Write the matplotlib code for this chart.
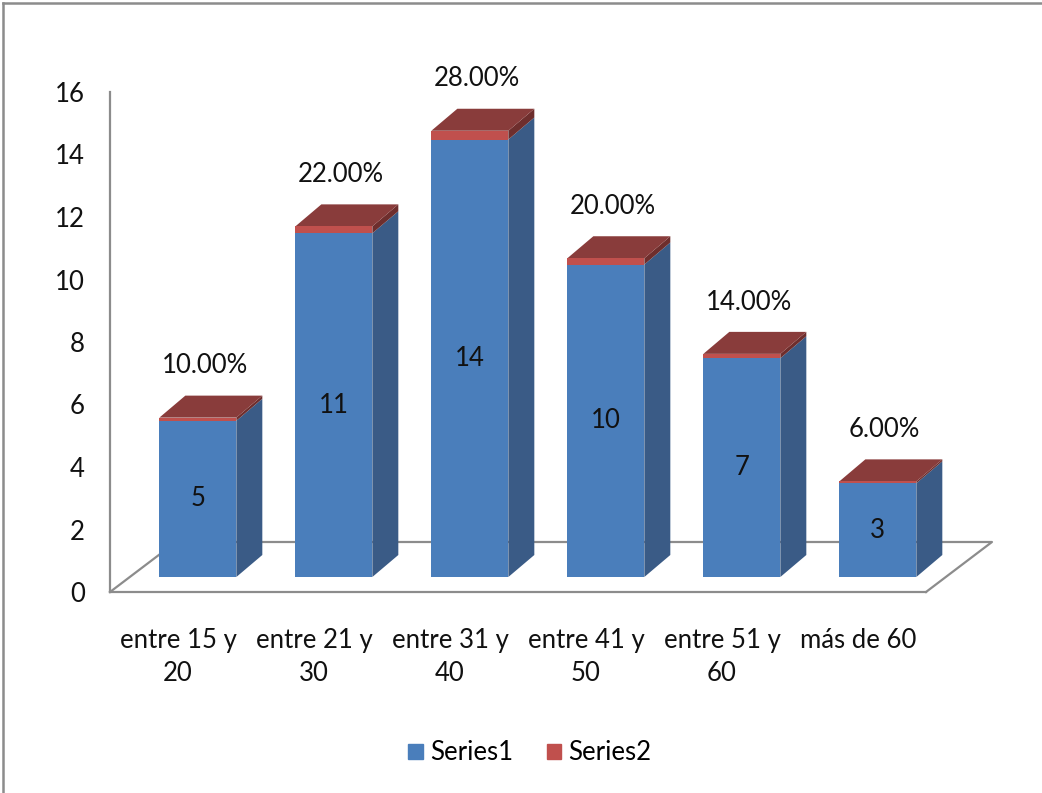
import matplotlib
matplotlib.use("Agg")
import matplotlib.pyplot as plt
from matplotlib.patches import Polygon, Patch
from matplotlib.lines import Line2D
import numpy as np

categories = ["entre 15 y\n20", "entre 21 y\n30", "entre 31 y\n40",
              "entre 41 y\n50", "entre 51 y\n60", "más de 60"]
series1 = [5, 11, 14, 10, 7, 3]
series2 = [0.10, 0.22, 0.28, 0.20, 0.14, 0.06]
yticks = [0, 2, 4, 6, 8, 10, 12, 14, 16]

plt.rcParams['font.family'] = ['Lato', 'DejaVu Sans']
FS = 18.5

W, H = 1042, 793
fig = plt.figure(figsize=(W / 100, H / 100), dpi=100)
ax = fig.add_axes([110 / W, 201 / H, 816 / W, 500 / H])
ax.set_xlim(-0.5, 5.5)
ax.set_ylim(0, 16)

gray = '#8c8c8c'
for s in ['top', 'right']:
    ax.spines[s].set_visible(False)
for s in ['left', 'bottom']:
    ax.spines[s].set_color(gray)
    ax.spines[s].set_linewidth(1.6)

# perspective geometry (data units)
floor_dx, floor_dy = 0.485, 1.6
bar_front_dx, bar_front_dy = 0.146, 0.48
bar_dx, bar_dy = 0.191, 0.704
bar_w = 0.566

# floor outline (back and sides)
xl, xr = -0.5, 5.5
ax.add_line(Line2D([xl, xl + floor_dx, xr + floor_dx, xr],
                   [0, floor_dy, floor_dy, 0], color=gray, lw=1.6,
                   clip_on=False, zorder=1))

blue_f, blue_s = '#4a7ebb', '#3a5b86'
red_f, red_s, red_t = '#c0504d', '#6e2e2d', '#893c3b'
txt = '#111111'

x = np.arange(len(categories))
fx = x + bar_front_dx
base = bar_front_dy

ax.bar(fx, series1, width=bar_w, bottom=base, color=blue_f, zorder=3, clip_on=False)
tops1 = base + np.array(series1)
ax.bar(fx, series2, width=bar_w, bottom=tops1, color=red_f, zorder=3, clip_on=False)
tops2 = tops1 + np.array(series2)

for i in range(len(categories)):
    l = fx[i] - bar_w / 2
    r = fx[i] + bar_w / 2
    ax.add_patch(Polygon([(r, base), (r + bar_dx, base + bar_dy),
                          (r + bar_dx, tops1[i] + bar_dy), (r, tops1[i])],
                         closed=True, color=blue_s, zorder=2.9, clip_on=False, lw=0))
    ax.add_patch(Polygon([(r, tops1[i]), (r + bar_dx, tops1[i] + bar_dy),
                          (r + bar_dx, tops2[i] + bar_dy), (r, tops2[i])],
                         closed=True, color=red_s, zorder=2.9, clip_on=False, lw=0))
    ax.add_patch(Polygon([(l, tops2[i]), (l + bar_dx, tops2[i] + bar_dy),
                          (r + bar_dx, tops2[i] + bar_dy), (r, tops2[i])],
                         closed=True, color=red_t, zorder=2.9, clip_on=False, lw=0))
    ax.text(fx[i], base + series1[i] / 2, str(series1[i]), ha='center', va='center',
            fontsize=FS, color=txt, zorder=5)
    ax.text(fx[i] + 0.05, tops2[i] + 1.66, f"{series2[i] * 100:.2f}%", ha='center',
            va='center', fontsize=FS, color=txt, zorder=5)

ax.set_yticks(yticks)
ax.set_yticklabels([str(t) for t in yticks])
ax.tick_params(axis='y', length=0, pad=18, labelsize=FS, labelcolor=txt)
ax.set_xticks(x)
ax.set_xticklabels(categories)
ax.tick_params(axis='x', length=0, pad=26, labelsize=FS, labelcolor=txt)
for lab in ax.get_xticklabels():
    lab.set_linespacing(1.4)
    lab.set_verticalalignment('top')

handles = [Patch(facecolor=blue_f, edgecolor=blue_f, label='Series1'),
           Patch(facecolor=red_f, edgecolor=red_f, label='Series2')]
fig.legend(handles=handles, loc='center', bbox_to_anchor=(530 / W, 1 - 753 / H),
           ncol=2, frameon=False, fontsize=FS, handlelength=0.55, handleheight=0.55,
           handletextpad=0.3, columnspacing=1.3)

# outer frame (top and left visible)
fig.add_artist(Line2D([3 / W, 3 / W], [0, 1 - 3 / H], color=gray, lw=1.8,
                      transform=fig.transFigure))
fig.add_artist(Line2D([3 / W, 1], [1 - 3 / H, 1 - 3 / H], color=gray, lw=1.8,
                      transform=fig.transFigure))

fig.savefig('out.png', dpi=100)
